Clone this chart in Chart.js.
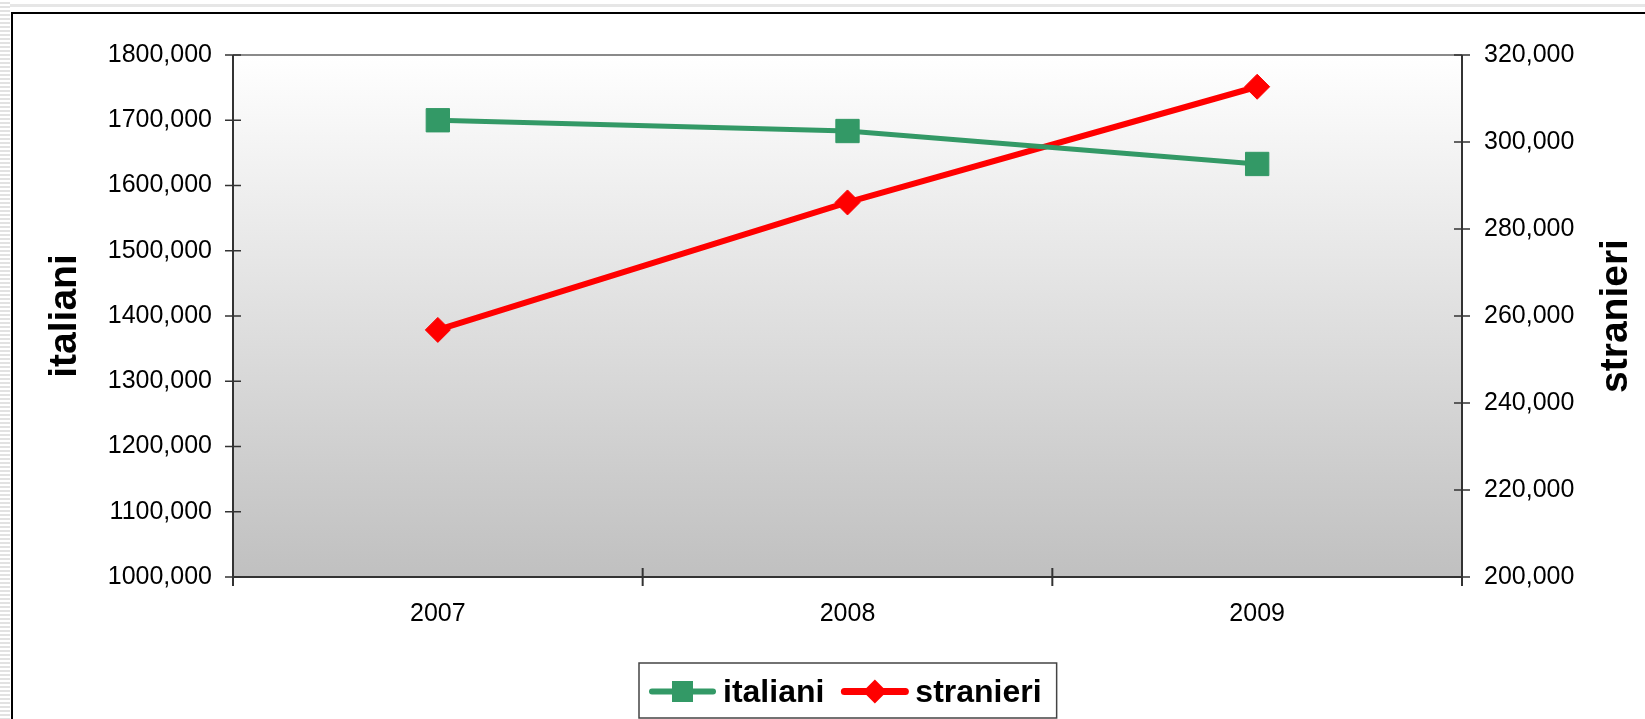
<!DOCTYPE html>
<html lang="it">
<head>
  <meta charset="UTF-8">
  <title>italiani e stranieri</title>
  <script src="https://cdn.jsdelivr.net/npm/chart.js"></script>
  <style>
    html, body {
      margin: 0;
      padding: 0;
      background: #fff;
    }
    #pagina {
      position: relative;
      width: 1645px;
      height: 719px;
      overflow: hidden;
      background: #fff;
    }
    #striscia-top {
      position: absolute;
      left: 0;
      top: 4px;
      width: 1645px;
      height: 3px;
      background: #e6e6e6;
    }
    #striscia-sx {
      position: absolute;
      left: 0;
      top: 0;
      width: 10px;
      height: 719px;
      background: repeating-linear-gradient(to bottom, #fff 0 2px, #e2e2e2 2px 4px);
    }
    #cornice {
      position: absolute;
      left: 11px;
      top: 12px;
      width: 1700px;
      height: 800px;
      border-left: 2px solid #000;
      border-top: 2px solid #000;
    }
    canvas {
      position: absolute;
      left: 0;
      top: 0;
    }
  </style>
</head>
<body>
  <div id="pagina">
    <div id="striscia-top"></div>
    <div id="striscia-sx"></div>
    <div id="cornice"></div>
    <canvas id="grafico" width="1645" height="719"></canvas>
  </div>

  <script>
    const anni = ['2007', '2008', '2009'];
    const italiani = [1700000, 1683500, 1633000];
    const stranieri = [256800, 286100, 312700];
    const tickItaliani = ['1000,000', '1100,000', '1200,000', '1300,000', '1400,000',
                          '1500,000', '1600,000', '1700,000', '1800,000'];
    const tickStranieri = ['200,000', '220,000', '240,000', '260,000', '280,000', '300,000', '320,000'];
    const titoli = ['italiani', 'stranieri'];

    const FONT = '"Liberation Sans", Arial, sans-serif';

    // sfondo sfumato dell'area del grafico
    const sfondo = {
      id: 'sfondo',
      beforeDraw(chart) {
        const { ctx, chartArea: a } = chart;
        const g = ctx.createLinearGradient(0, a.top, 0, a.bottom);
        g.addColorStop(0, '#ffffff');
        g.addColorStop(1, '#c0c0c0');
        ctx.save();
        ctx.fillStyle = g;
        ctx.fillRect(a.left, a.top, a.right - a.left, a.bottom - a.top);
        ctx.restore();
      }
    };

    // assi e tacche che attraversano la linea (stile Excel)
    const assi = {
      id: 'assi',
      beforeDatasetsDraw(chart) {
        const { ctx, chartArea: a, scales } = chart;
        ctx.save();
        ctx.lineWidth = 2;
        ctx.strokeStyle = '#8a8a8a';
        ctx.beginPath();
        ctx.moveTo(a.left, a.top);
        ctx.lineTo(a.right, a.top);
        ctx.stroke();

        ctx.strokeStyle = '#333';
        ctx.beginPath();
        ctx.moveTo(a.left, a.top);
        ctx.lineTo(a.left, a.bottom + 9);
        ctx.moveTo(a.right, a.top);
        ctx.lineTo(a.right, a.bottom + 9);
        ctx.moveTo(a.left, a.bottom);
        ctx.lineTo(a.right, a.bottom);
        ctx.stroke();

        ctx.lineWidth = 1.5;
        ctx.beginPath();
        scales.y.ticks.forEach(t => {
          const y = scales.y.getPixelForValue(t.value);
          ctx.moveTo(a.left - 8, y);
          ctx.lineTo(a.left + 8, y);
        });
        scales.y2.ticks.forEach(t => {
          const y = scales.y2.getPixelForValue(t.value);
          ctx.moveTo(a.right - 8, y);
          ctx.lineTo(a.right + 8, y);
        });
        ctx.stroke();

        ctx.lineWidth = 2;
        ctx.beginPath();
        for (let i = 0; i <= anni.length; i++) {
          const x = scales.x.getPixelForValue(i - 0.5);
          ctx.moveTo(x, a.bottom - 9);
          ctx.lineTo(x, a.bottom + 9);
        }
        ctx.stroke();
        ctx.restore();
      }
    };

    function marcatore(ctx, stile, x, y, lato, colore) {
      ctx.fillStyle = colore;
      ctx.beginPath();
      if (stile === 'rect') {
        ctx.rect(x - lato / 2, y - lato / 2, lato, lato);
      } else {
        ctx.moveTo(x, y - lato / 2);
        ctx.lineTo(x + lato / 2, y);
        ctx.lineTo(x, y + lato / 2);
        ctx.lineTo(x - lato / 2, y);
        ctx.closePath();
      }
      ctx.fill();
    }

    // titoli degli assi e legenda
    const testi = {
      id: 'testi',
      afterDraw(chart) {
        const { ctx, chartArea: a } = chart;
        const cy = (a.top + a.bottom) / 2;
        ctx.save();
        ctx.fillStyle = '#000';
        ctx.font = 'bold 39px ' + FONT;
        ctx.textAlign = 'center';
        ctx.textBaseline = 'alphabetic';
        [[76, titoli[0]], [1627, titoli[1]]].forEach(([x, t]) => {
          ctx.save();
          ctx.translate(x, cy);
          ctx.rotate(-Math.PI / 2);
          ctx.fillText(t, 0, 0);
          ctx.restore();
        });

        // legenda
        ctx.font = 'bold 32px ' + FONT;
        const ds = chart.data.datasets;
        const larghezze = ds.map(d => ctx.measureText(d.label).width);
        const linea = 67, pad = 10, gap = 7, tra = 17, fine = 15;
        const w = pad + fine + ds.length * (linea + gap) + larghezze.reduce((s, v) => s + v, 0) + tra * (ds.length - 1);
        const cx = (a.left + a.right) / 2;
        const top = 663, h = 55, ly = top + h / 2 + 1;
        let x = Math.round(cx - w / 2);
        ctx.strokeStyle = '#444';
        ctx.lineWidth = 1.5;
        ctx.strokeRect(x, top, w, h);
        x += pad;
        ctx.textAlign = 'left';
        ctx.textBaseline = 'middle';
        ds.forEach((d, i) => {
          ctx.strokeStyle = d.borderColor;
          ctx.lineWidth = d.borderWidth + 1;
          ctx.lineCap = 'round';
          ctx.beginPath();
          ctx.moveTo(x + 3, ly);
          ctx.lineTo(x + linea - 3, ly);
          ctx.stroke();
          marcatore(ctx, d.pointStyle, x + linea / 2, ly, d.pointStyle === 'rect' ? 21 : 24, d.borderColor);
          x += linea + gap;
          ctx.fillStyle = '#000';
          ctx.fillText(d.label, x, ly + 2);
          x += larghezze[i] + tra;
        });
        ctx.restore();
      }
    };

    const ctx = document.getElementById('grafico').getContext('2d');
    new Chart(ctx, {
      type: 'line',
      data: {
        labels: anni,
        datasets: [
          {
            label: titoli[0],
            data: italiani,
            yAxisID: 'y',
            borderColor: '#339966',
            backgroundColor: '#339966',
            borderWidth: 5,
            pointStyle: 'rect',
            pointRadius: 16.5,
            pointHoverRadius: 16.5,
            pointBorderWidth: 1,
            tension: 0
          },
          {
            label: titoli[1],
            data: stranieri,
            yAxisID: 'y2',
            borderColor: '#ff0000',
            backgroundColor: '#ff0000',
            borderWidth: 6,
            pointStyle: 'rectRot',
            pointRadius: 12.5,
            pointHoverRadius: 12.5,
            pointBorderWidth: 1,
            tension: 0
          }
        ]
      },
      options: {
        responsive: false,
        animation: false,
        layout: { padding: { top: 55, bottom: 0, left: 0, right: 0 } },
        plugins: {
          legend: { display: false },
          tooltip: { enabled: false }
        },
        scales: {
          x: {
            offset: true,
            grid: { display: false, drawTicks: false, tickLength: 0 },
            border: { display: false },
            ticks: { color: '#000', padding: 22, font: { family: FONT, size: 25 } },
            afterFit: s => { s.height = 142; }
          },
          y: {
            position: 'left',
            min: 1000000,
            max: 1800000,
            grid: { display: false, drawTicks: false, tickLength: 0 },
            border: { display: false },
            ticks: {
              stepSize: 100000,
              color: '#000',
              padding: 21,
              font: { family: FONT, size: 25 },
              callback: (v, i) => tickItaliani[i]
            },
            afterFit: s => { s.width = 233; }
          },
          y2: {
            position: 'right',
            min: 200000,
            max: 320000,
            grid: { display: false, drawTicks: false, tickLength: 0 },
            border: { display: false },
            ticks: {
              stepSize: 20000,
              color: '#000',
              padding: 22,
              font: { family: FONT, size: 25 },
              callback: (v, i) => tickStranieri[i]
            },
            afterFit: s => { s.width = 183; }
          }
        }
      },
      plugins: [sfondo, assi, testi]
    });
  </script>
</body>
</html>
